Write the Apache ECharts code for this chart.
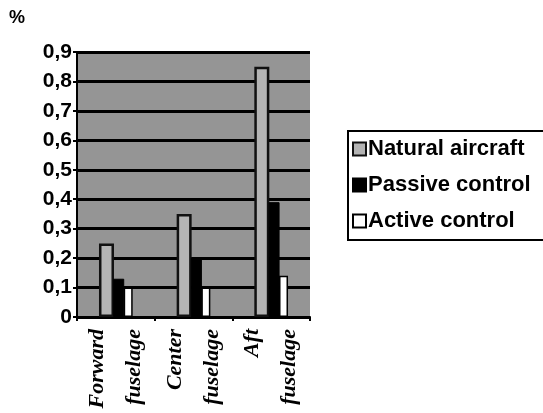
<!DOCTYPE html>
<html><head><meta charset="utf-8">
<script src="https://cdn.jsdelivr.net/npm/echarts@6/dist/echarts.min.js"></script>
<style>html,body{margin:0;padding:0;background:#fff}#c{width:543px;height:413px}</style>
</head><body><div id="c"></div>
<script>
const categories = ['Forward\nfuselage', 'Center\nfuselage', 'Aft\nfuselage'];
const seriesNames = ['Natural aircraft', 'Passive control', 'Active control'];
const naturalValues = [0.25, 0.35, 0.85];
const passiveValues = [0.13, 0.20, 0.39];
const activeValues = [0.10, 0.10, 0.14];
const yTickLabels = ['0', '0,1', '0,2', '0,3', '0,4', '0,5', '0,6', '0,7', '0,8', '0,9'];

const chart = echarts.init(document.getElementById('c'), null, {renderer: 'canvas'});
chart.setOption({
  animation: false,
  backgroundColor: '#fff',
  graphic: [{type: 'text', left: 9, top: 9, style: {text: '%', font: 'bold 18px "Liberation Sans", Arial', fill: '#000'}}],
  grid: {left: 77, right: 233, top: 52, bottom: 96, show: true, backgroundColor: '#959595', borderWidth: 0},
  legend: {
    orient: 'vertical', left: 348, top: 131,
    data: seriesNames,
    borderColor: '#000', borderWidth: 2, borderRadius: 0,
    padding: [6, 60, 7, 4],
    itemWidth: 13, itemHeight: 13, itemGap: 12,
    icon: 'rect',
    textStyle: {fontFamily: '"Liberation Sans", Arial', fontWeight: 'bold', fontSize: 22, color: '#000', lineHeight: 24, padding: [0, 0, 0, -3]}
  },
  xAxis: {
    type: 'category', data: categories,
    axisLine: {lineStyle: {color: '#000', width: 2}},
    axisTick: {show: true, length: 4, lineStyle: {color: '#000', width: 2}},
    axisLabel: {rotate: 90, margin: 12, fontFamily: '"Liberation Serif", "Times New Roman", serif', fontStyle: 'italic', fontWeight: 'bold', fontSize: 22, color: '#000', lineHeight: 37}
  },
  yAxis: {
    type: 'value', min: 0, max: 0.9, interval: 0.1,
    axisLine: {show: true, lineStyle: {color: '#000', width: 2}},
    axisTick: {show: true, length: 4, lineStyle: {color: '#000', width: 2}},
    splitLine: {show: true, lineStyle: {color: '#000', width: 3}},
    axisLabel: {margin: 5, fontFamily: '"Liberation Sans", Arial', fontWeight: 'bold', fontSize: 21, color: '#000',
      formatter: function (v) { return yTickLabels[Math.round(v * 10)]; }}
  },
  series: [
    {name: seriesNames[0], type: 'bar', data: naturalValues, barWidth: 15, barGap: '-5%',
      itemStyle: {color: '#b4b4b4', borderColor: '#111', borderWidth: 2.5}},
    {name: seriesNames[1], type: 'bar', data: passiveValues, barWidth: 11,
      itemStyle: {color: '#000', borderColor: '#000', borderWidth: 1}},
    {name: seriesNames[2], type: 'bar', data: activeValues, barWidth: 9,
      itemStyle: {color: '#fff', borderColor: '#000', borderWidth: 1.5}}
  ]
});
</script></body></html>
